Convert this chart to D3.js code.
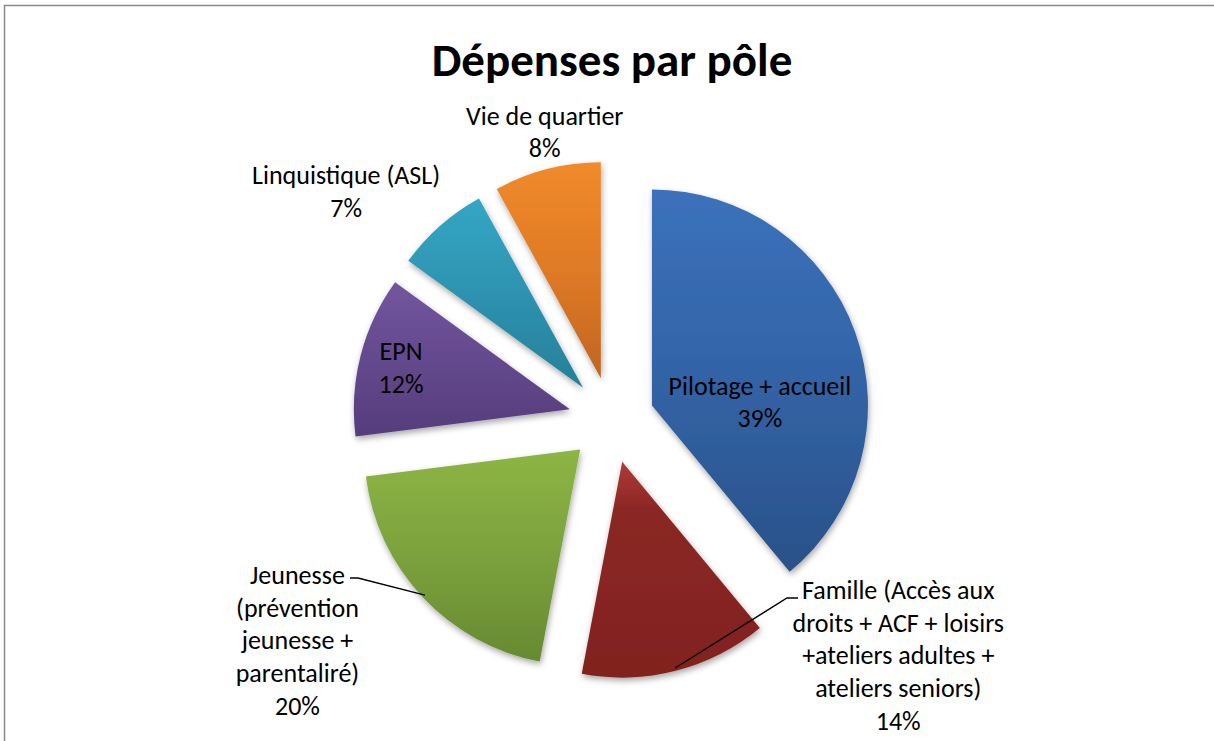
<!DOCTYPE html>
<html>
<head>
<meta charset="utf-8">
<script src="https://cdn.jsdelivr.net/npm/d3@7"></script>
<style>
  body { margin: 0; background: #fff; }
  text { font-family: Carlito, Lato, "Open Sans", sans-serif; fill: #000; }
</style>
</head>
<body>
<div id="viz"></div>
<script>
// data
const categories = ["Pilotage + accueil", "Famille", "Jeunesse", "EPN", "Linquistique (ASL)", "Vie de quartier"];
const values = [39, 14, 20, 12, 7, 8];
const labelLines = [
    ["Pilotage + accueil", "39%"],
    ["Famille (Accès aux", "droits + ACF + loisirs", "+ateliers adultes +", "ateliers seniors)", "14%"],
    ["Jeunesse", "(prévention", "jeunesse +", "parentaliré)", "20%"],
    ["EPN", "12%"],
    ["Linquistique (ASL)", "7%"],
    ["Vie de quartier", "8%"]
];
const colorsTop = ["#3b72bb", "#b03a36", "#8db544", "#72569e", "#35a6c6", "#f08a2a"];
const colorsMid = ["#3263a6", "#8a2725", "#7ba23d", "#64498d", "#2d93b0", "#df7a26"];
const colorsBottom = ["#2a5188", "#82221f", "#668a31", "#553d7c", "#277f99", "#c0651f"];

// layout
const width = 1214, height = 741;
const cx = 611.5, cy = 420, radius = 216, explode = 43;
const fontSize = 26, lineH = 32.8;
// label anchor relative to the exploded slice apex: [angle deg, distance px]
const labelPolar = [[88, 108], [125, 337], [236, 341], [284, 174], [309.7, 308], [347.2, 253]];
const leaders = { 1: { elbow: [787, 598], end: [798, 598] }, 2: { elbow: [358, 578], end: [350, 578] } };

const svg = d3.select("#viz").append("svg")
    .attr("width", width)
    .attr("height", height);

const defs = svg.append("defs");
const shadow = defs.append("filter").attr("id", "shadow")
    .attr("x", "-20%").attr("y", "-20%").attr("width", "140%").attr("height", "140%");
shadow.append("feDropShadow")
    .attr("dx", 1).attr("dy", 3).attr("stdDeviation", 3)
    .attr("flood-color", "#000").attr("flood-opacity", 0.35);

values.forEach((v, i) => {
    const g = defs.append("linearGradient").attr("id", "grad" + i)
        .attr("x1", 0).attr("y1", 0).attr("x2", 0).attr("y2", 1);
    g.append("stop").attr("offset", "0%").attr("stop-color", colorsTop[i]);
    g.append("stop").attr("offset", i == 1 ? "22%" : "50%").attr("stop-color", colorsMid[i]);
    g.append("stop").attr("offset", "100%").attr("stop-color", colorsBottom[i]);
});

// frame
svg.append("path")
    .attr("d", `M4.5,${height} V5.5 H${width}`)
    .attr("fill", "none").attr("stroke", "#8a8a8a").attr("stroke-width", 1.5);

// title
svg.append("text")
    .attr("x", 612).attr("y", 76)
    .attr("text-anchor", "middle")
    .attr("font-size", 47).attr("font-weight", "bold")
    .text("Dépenses par pôle");

const pie = d3.pie().sort(null).value(d => d);
const arcs = pie(values);
const arc = d3.arc().innerRadius(0).outerRadius(radius);

const rad = a => a * Math.PI / 180;
const apex = d => {
    const b = (d.startAngle + d.endAngle) / 2;
    return [cx + explode * Math.sin(b), cy - explode * Math.cos(b)];
};

svg.selectAll("path.slice")
    .data(arcs)
    .enter()
    .append("path")
    .attr("class", "slice")
    .attr("transform", d => `translate(${apex(d)})`)
    .attr("d", arc)
    .attr("fill", (d, i) => `url(#grad${i})`)
    .attr("filter", "url(#shadow)");

// leader lines
arcs.forEach((d, i) => {
    if (!leaders[i]) return;
    const [ax, ay] = apex(d);
    const b = (d.startAngle + d.endAngle) / 2;
    const p = [ax + (radius - 3) * Math.sin(b), ay - (radius - 3) * Math.cos(b)];
    svg.append("polyline")
        .attr("points", [p, leaders[i].elbow, leaders[i].end].map(q => q.join(",")).join(" "))
        .attr("fill", "none").attr("stroke", "#000").attr("stroke-width", 1.3);
});

// labels
arcs.forEach((d, i) => {
    const [ax, ay] = apex(d);
    const [ang, dist] = labelPolar[i];
    const lx = ax + dist * Math.sin(rad(ang));
    const ly = ay - dist * Math.cos(rad(ang));
    const lines = labelLines[i];
    const t = svg.append("text")
        .attr("text-anchor", "middle")
        .attr("font-size", fontSize);
    lines.forEach((s, k) => {
        t.append("tspan")
            .attr("x", lx)
            .attr("y", ly + (k - (lines.length - 1) / 2) * lineH + fontSize * 0.36)
            .text(s);
    });
});
</script>
</body>
</html>
